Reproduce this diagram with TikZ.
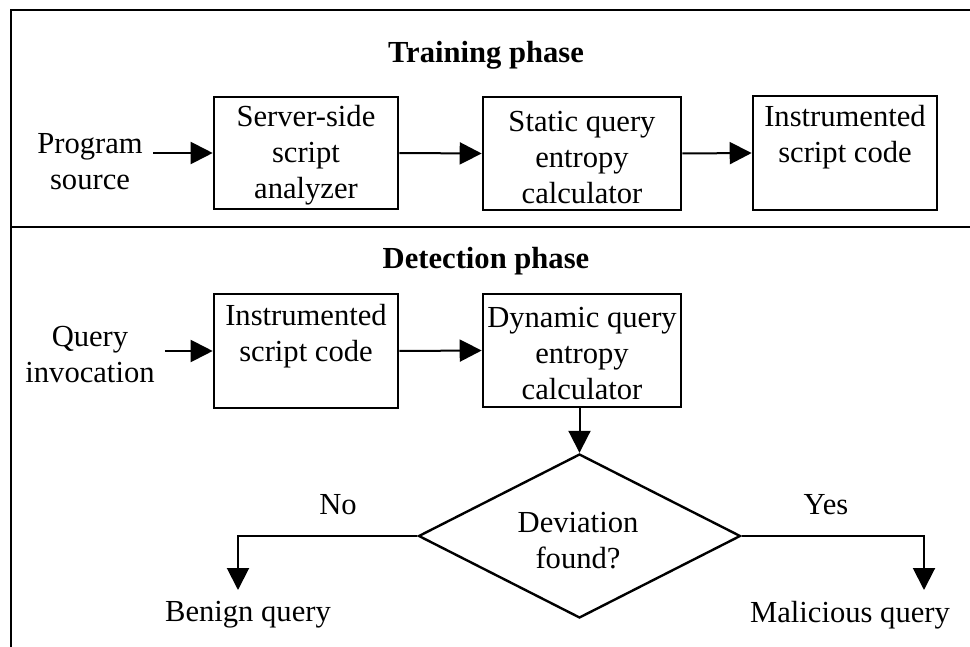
\documentclass[tikz,border=0pt]{standalone}
\usepackage{fontspec}
\setmainfont{Liberation Serif}
\usetikzlibrary{arrows.meta,shapes.geometric}
\begin{document}
\begin{tikzpicture}[x=0.5pt,y=-0.5pt,
  every node/.style={font=\fontsize{15.3pt}{18pt}\selectfont},
  frame/.style={line width=1.2pt},
  box/.style={draw,line width=1.3pt,inner sep=0pt},
  txt/.style={align=center,inner xsep=5pt,inner ysep=4.5pt},
  title/.style={font=\fontsize{15.3pt}{18pt}\selectfont\bfseries},
  arr/.style={line width=1pt,-{Triangle[length=11pt,width=11pt]}},
  line/.style={line width=1pt}]
\useasboundingbox (0,0) rectangle (970,647);
% frame
\draw[frame] (11,647) -- (11,10) -- (975,10);
\draw[frame] (11,227) -- (975,227);
% titles
\node[title] (t1) at (486,55) {Training phase};
\node[title] (t2) at (486,261) {Detection phase};
% training
\node[txt] (ps) at (90,162) {Program\\source};
\node[box,minimum width=92pt,minimum height=56pt] (b1) at (306,153) {};
\node[txt] (b1t) at (306,155) {Server-side\\script\\analyzer};
\node[box,minimum width=99pt,minimum height=56.5pt] (b2) at (582,153.5) {};
\node[txt] (b2t) at (582,158) {Static query\\entropy\\calculator};
\node[box,minimum width=92pt,minimum height=57pt] (b3) at (845,153) {};
\node[txt] (b3t) at (845,137) {Instrumented\\script code};
\draw[arr] (ps.east |- b1.west) -- (b1.west);
\draw[arr] (b1.east) -- (b2.west);
\draw[arr] (b2.east) -- (b3.west);
% detection
\node[txt] (qi) at (90,355) {Query\\invocation};
\node[box,minimum width=92pt,minimum height=57pt] (b4) at (306,351) {};
\node[txt] (b4t) at (306,336) {Instrumented\\script code};
\node[box,minimum width=99pt,minimum height=56.5pt] (b5) at (582,350.5) {};
\node[txt] (b5t) at (582,354) {Dynamic query\\entropy\\calculator};
\node[draw,diamond,line width=1.2pt,inner sep=0pt,minimum width=161pt,minimum height=82pt,align=center] (dia) at (579.5,536) {};
\node[txt] (diat) at (578,541) {Deviation\\found?};
\draw[arr] (qi.east |- b4.west) -- (b4.west);
\draw[arr] (b4.east) -- (b5.west);
\draw[arr] (dia.north |- b5.south) -- (dia.north);
\node[txt] (no) at (338,505) {No};
\node[txt] (yes) at (826,505) {Yes};
\node[txt] (benign) at (248,615) {Benign query};
\node[txt] (mal) at (850,615) {Malicious query};
\coordinate (noEnd) at (238,590);
\coordinate (yesEnd) at (924,590);
\draw[arr] (dia.west) -| (noEnd);
\draw[arr] (dia.east) -| (yesEnd);
\end{tikzpicture}
\end{document}
